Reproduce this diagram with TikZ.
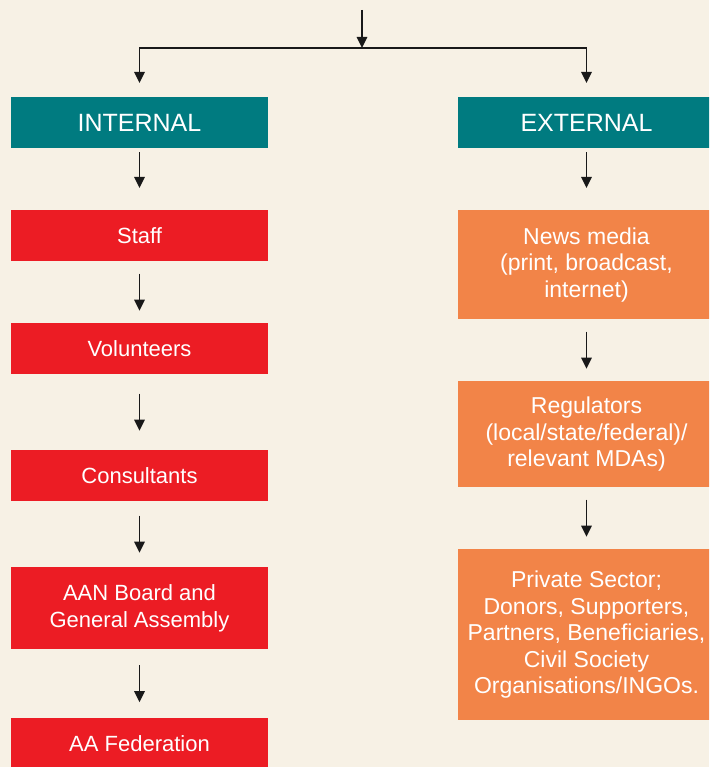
\documentclass[tikz,border=0pt]{standalone}
\usepackage{fontspec}
\setmainfont{Liberation Sans}
\usetikzlibrary{arrows.meta, positioning, calc}
\definecolor{papercream}{RGB}{247, 241, 229}
\definecolor{headteal}{RGB}{0, 123, 128}
\definecolor{internalred}{RGB}{236, 28, 36}
\definecolor{externalorange}{RGB}{242, 132, 72}
\tikzset{
  flow/.style={-{Triangle[width=10.5pt, length=11pt]}, line width=1.5pt, draw=black!90},
  headbox/.style={fill=headteal, text=white, minimum width=257pt, minimum height=51pt,
    inner sep=0pt, anchor=north, font=\fontsize{25}{30}\selectfont},
  intbox/.style={fill=internalred, text=white, minimum width=257pt, inner sep=0pt,
    anchor=north, align=center, font=\fontsize{22}{26.5}\selectfont},
  extbox/.style={fill=externalorange, text=white, minimum width=257pt, inner sep=0pt,
    anchor=north, align=center, font=\fontsize{23}{26.5}\selectfont}
}
\newcommand{\link}[2]{%
  \draw[flow] ($(#1.south)!0.5!(#2.north)+(0,-18.5)$) -- ($(#1.south)!0.5!(#2.north)+(0,18.5)$);
}
\begin{document}
\begin{tikzpicture}[x=1pt, y=-1pt]
    % Background
    \fill[papercream] (0,0) rectangle (709,767);
    \clip (0,0) rectangle (709,767);
    % Headers
    \node[headbox] (internal) at (139.5,97) {INTERNAL};
    \node[headbox] (external) at (586.5,97) {EXTERNAL};
    % Internal column
    \node[intbox, minimum height=51pt] (staff) at (139.5,210) {Staff};
    \node[intbox, minimum height=51pt] (volunteers) at (139.5,323) {Volunteers};
    \node[intbox, minimum height=51pt] (consultants) at (139.5,450) {Consultants};
    \node[intbox, minimum height=82pt] (board) at (139.5,567) {AAN Board and\\General Assembly};
    \node[intbox, minimum height=51pt] (federation) at (139.5,718) {AA Federation};
    % External column
    \node[extbox, minimum height=109pt] (media) at (586.5,210) {News media\\(print, broadcast,\\internet)};
    \node[extbox, minimum height=106pt] (regulators) at (586.5,381) {Regulators\\(local/state/federal)/\\relevant MDAs)};
    \node[extbox, minimum height=171pt] (private) at (586.5,549) {Private Sector;\\Donors, Supporters,\\Partners, Beneficiaries,\\Civil Society\\Organisations/INGOs.};
    % Split at the top
    \coordinate (source) at (362,10);
    \coordinate (fork) at (362,48);
    \draw[flow] (source) -- (fork);
    \draw[flow] (fork) -| ([yshift=14pt]internal.north);
    \draw[flow] (fork) -| ([yshift=14pt]external.north);
    % Down the columns
    \draw[flow, shorten <=4pt, shorten >=22pt] (internal) -- (staff);
    \draw[flow, shorten <=4pt, shorten >=22pt] (external) -- (media);
    \link{staff}{volunteers}
    \link{volunteers}{consultants}
    \link{consultants}{board}
    \link{board}{federation}
    \link{media}{regulators}
    \link{regulators}{private}
  \end{tikzpicture}
\end{document}
